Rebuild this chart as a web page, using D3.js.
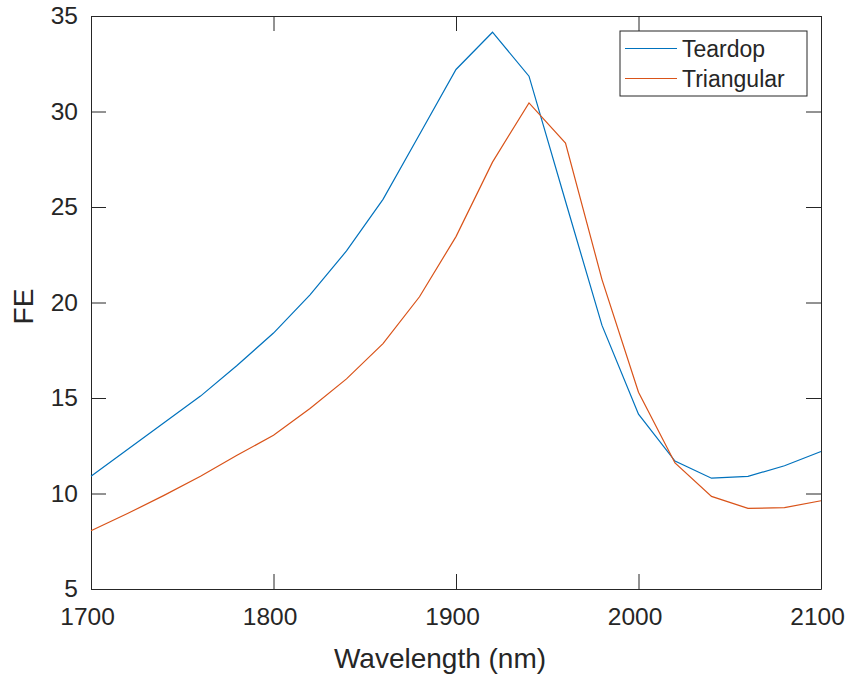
<!DOCTYPE html>
<html>
<head>
<meta charset="utf-8">
<script src="https://cdn.jsdelivr.net/npm/d3@7"></script>
<style>
  body { margin: 0; background: #fff; }
  text { font-family: "Liberation Sans", Arial, Helvetica, sans-serif; fill: #262626; }
</style>
</head>
<body>
<div id="chart"></div>
<script>
// data
const wavelength = [1700, 1720, 1740, 1760, 1780, 1800, 1820, 1840, 1860, 1880, 1900,
                    1920, 1940, 1960, 1980, 2000, 2020, 2040, 2060, 2080, 2100];
const teardrop = [10.9, 12.3, 13.7, 15.1, 16.7, 18.4, 20.4, 22.7, 25.4, 28.8, 32.2,
                  34.15, 31.85, 25.3, 18.8, 14.15, 11.7, 10.8, 10.9, 11.45, 12.2];
const triangular = [8.05, 8.95, 9.9, 10.9, 12.0, 13.05, 14.45, 16.0, 17.85, 20.3, 23.45,
                    27.35, 30.45, 28.35, 21.2, 15.3, 11.6, 9.85, 9.22, 9.26, 9.62];
const xTicks = [1700, 1800, 1900, 2000, 2100];
const yTicks = [5, 10, 15, 20, 25, 30, 35];
const seriesNames = ["Teardop", "Triangular"];
const colors = ["#0072BD", "#D95319"];

var margin = {top: 16, right: 27, bottom: 88, left: 91},
    width = 848 - margin.left - margin.right,
    height = 677 - margin.top - margin.bottom;

var svg = d3.select("#chart").append("svg")
        .attr("width", 848)
        .attr("height", 677)
    .append("g")
        .attr("transform", "translate(" + margin.left + "," + margin.top + ")");

var x = d3.scaleLinear().domain([1700, 2100]).range([0, width]);
var y = d3.scaleLinear().domain([5, 35]).range([height, 0]);

// axes (MATLAB style: box, inward ticks on all sides)
var axisColor = "#262626";
svg.append("g")
    .attr("transform", "translate(0," + height + ")")
    .call(d3.axisBottom(x).tickValues(xTicks).tickFormat(d3.format("d"))
        .tickSize(-15).tickPadding(19).tickSizeOuter(0))
    .call(g => g.selectAll("text").attr("font-size", "24.5px").attr("dx", "-4px"));

svg.append("g")
    .call(d3.axisTop(x).tickValues(xTicks).tickSize(-15).tickFormat("").tickSizeOuter(0));

svg.append("g")
    .call(d3.axisLeft(y).tickValues(yTicks).tickSize(-15).tickPadding(-2).tickSizeOuter(0))
    .call(g => g.selectAll("text").attr("font-size", "24.5px").attr("x", -13));

svg.append("g")
    .attr("transform", "translate(" + width + ",0)")
    .call(d3.axisRight(y).tickValues(yTicks).tickSize(-15).tickFormat("").tickSizeOuter(0));

svg.selectAll(".domain, .tick line").attr("stroke", axisColor).attr("stroke-width", 1);
svg.selectAll(".tick text").attr("fill", axisColor).style("fill", axisColor);

// lines
var line = d3.line()
    .x((d, i) => x(wavelength[i]))
    .y(d => y(d));

[teardrop, triangular].forEach((s, k) => {
    svg.append("path")
        .datum(s)
        .attr("fill", "none")
        .attr("stroke", colors[k])
        .attr("stroke-width", 1.2)
        .attr("d", line);
});

// labels
svg.append("text")
    .attr("text-anchor", "middle")
    .attr("x", 349)
    .attr("y", height + 79)
    .attr("font-size", "28px")
    .text("Wavelength (nm)");

svg.append("text")
    .attr("text-anchor", "middle")
    .attr("transform", "translate(-58," + (height / 2 + 4) + ") rotate(-90)")
    .attr("font-size", "28px")
    .text("FE");

// legend
var legend = svg.append("g").attr("transform", "translate(529,15)");
legend.append("rect")
    .attr("width", 187)
    .attr("height", 65)
    .attr("fill", "#fff")
    .attr("stroke", axisColor)
    .attr("stroke-width", 1);

seriesNames.forEach((name, k) => {
    var yy = 17.5 + k * 30;
    legend.append("line")
        .attr("x1", 5).attr("x2", 57)
        .attr("y1", yy).attr("y2", yy)
        .attr("stroke", colors[k])
        .attr("stroke-width", 1.2);
    legend.append("text")
        .attr("x", 62)
        .attr("y", yy + 8)
        .attr("font-size", "23px")
        .text(name);
});
</script>
</body>
</html>
